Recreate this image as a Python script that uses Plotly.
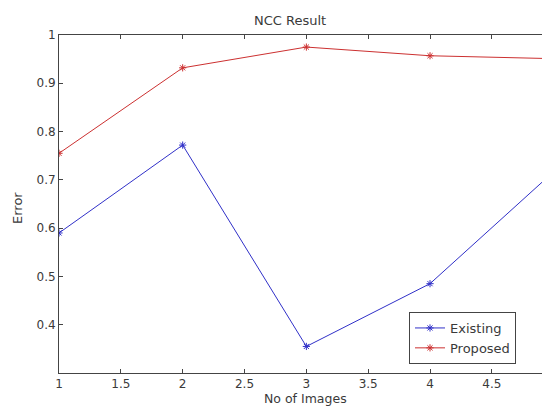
import plotly.graph_objects as go

x_images = [1, 2, 3, 4, 5]
existing = [0.59, 0.772, 0.355, 0.485, 0.717]
proposed = [0.755, 0.932, 0.975, 0.957, 0.951]
x_ticks = [1, 1.5, 2, 2.5, 3, 3.5, 4, 4.5]
x_tick_text = ["1", "1.5", "2", "2.5", "3", "3.5", "4", "4.5"]
y_ticks = [0.4, 0.5, 0.6, 0.7, 0.8, 0.9, 1.0]
y_tick_text = ["0.4", "0.5", "0.6", "0.7", "0.8", "0.9", "1"]

blue = "#3030c8"
red = "#cc3030"
txt = "#3a3a3a"
FONT = "DejaVu Sans"

fig = go.Figure()
fig.add_trace(go.Scatter(x=x_images, y=existing, name="Existing", mode="lines+markers",
                         line=dict(color=blue, width=1),
                         marker=dict(symbol="asterisk-open", size=6, color=blue, line=dict(color=blue, width=1))))
fig.add_trace(go.Scatter(x=x_images, y=proposed, name="Proposed", mode="lines+markers",
                         line=dict(color=red, width=1),
                         marker=dict(symbol="asterisk-open", size=6, color=red, line=dict(color=red, width=1))))

axis_common = dict(showgrid=False, zeroline=False, showline=True, linecolor="#444", linewidth=1,
                   ticks="inside", ticklen=4, tickcolor="#444", mirror="ticks", automargin=False,
                   tickfont=dict(family=FONT, size=12, color=txt))

# page body has an 8px margin; figure is sized to end exactly at the window edge
W, H = 542, 399
ML, MT, MB = 51, 27, 34
pw = W - ML
ph = H - MT - MB

def px(sx):
    return (sx - 59) / pw

def py(sy):
    return (373 - sy) / ph

fig.update_layout(
    width=W, height=H,
    margin=dict(l=ML, r=0, t=MT, b=MB, autoexpand=False),
    paper_bgcolor="white", plot_bgcolor="white",
    font=dict(family=FONT, size=12, color=txt),
    showlegend=True,
    legend=dict(x=px(409), y=py(312), xanchor="left", yanchor="top",
                bordercolor="#444", borderwidth=1, bgcolor="white",
                font=dict(family=FONT, size=13, color=txt), tracegroupgap=0,
                itemwidth=30),
    xaxis=dict(range=[1, 4.97], tickvals=x_ticks, ticktext=x_tick_text, **axis_common),
    yaxis=dict(range=[0.3, 1.0], tickvals=y_ticks, ticktext=y_tick_text, **axis_common),
)
ann = dict(xref="paper", yref="paper", showarrow=False, xanchor="center", yanchor="middle")
fig.add_annotation(text="NCC Result", x=px(290), y=py(20),
                   font=dict(family=FONT, size=13, color=txt), **ann)
fig.add_annotation(text="No of Images", x=px(305), y=py(398),
                   font=dict(family=FONT, size=12.5, color=txt), **ann)
fig.add_annotation(text="Error", x=px(17), y=py(208), textangle=-90,
                   font=dict(family=FONT, size=13, color=txt), **ann)

fig.write_html("out.html")
